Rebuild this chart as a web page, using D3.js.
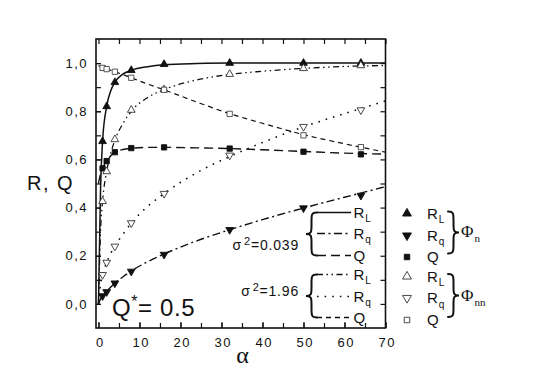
<!DOCTYPE html>
<html>
<head>
<meta charset="utf-8">
<script src="https://cdn.jsdelivr.net/npm/d3@7"></script>
<style>
  body { margin: 0; background: #fff; }
  svg { display: block; font-family: "Liberation Sans", Arial, sans-serif; }
  .tick text { font-size: 13px; letter-spacing: 1.5px; fill: #111; }
  .tick line { stroke: #111; stroke-width: 1.2; }
</style>
</head>
<body>
<div id="chart"></div>
<script>
"use strict";

// alpha values where markers are drawn
const alphaMarks = [1, 2, 4, 8, 16, 32, 50, 64];

// Phi_n (sigma^2 = 0.039), filled markers
const rlN = [0.675, 0.82, 0.92, 0.97, 0.995, 1.0, 1.0, 1.0];
const rqN = [0.033, 0.05, 0.086, 0.135, 0.205, 0.308, 0.398, 0.45];
const qN = [0.563, 0.593, 0.63, 0.647, 0.65, 0.645, 0.632, 0.621];

// Phi_nn (sigma^2 = 1.96), open markers
const rlNN = [0.426, 0.55, 0.683, 0.805, 0.89, 0.954, 0.978, 0.99];
const rqNN = [0.121, 0.172, 0.239, 0.336, 0.458, 0.617, 0.736, 0.805];
const qNN = [0.98, 0.975, 0.964, 0.939, 0.889, 0.789, 0.70, 0.651];

// theory curves
const alphaCurve = [0, 0.5, 1, 2, 3, 4, 6, 8, 12, 16, 24, 32, 40, 50, 60, 70];
const rlNCurve = [0, 0.47, 0.675, 0.82, 0.885, 0.92, 0.955, 0.97, 0.985, 0.993, 0.998, 1.0, 1.0, 1.0, 1.0, 1.0];
const rqNCurve = [0, 0.02, 0.033, 0.052, 0.07, 0.087, 0.113, 0.137, 0.175, 0.207, 0.262, 0.308, 0.35, 0.398, 0.443, 0.487];
const qNCurve = [0.5, 0.54, 0.563, 0.594, 0.615, 0.628, 0.641, 0.646, 0.65, 0.65, 0.648, 0.645, 0.64, 0.633, 0.626, 0.622];
const rlNNCurve = [0, 0.3, 0.426, 0.55, 0.625, 0.68, 0.75, 0.8, 0.857, 0.89, 0.93, 0.953, 0.966, 0.978, 0.986, 0.99];
const rqNNCurve = [0, 0.08, 0.121, 0.172, 0.21, 0.24, 0.29, 0.335, 0.405, 0.458, 0.545, 0.612, 0.67, 0.735, 0.79, 0.843];
const qNNCurve = [0.99, 0.985, 0.98, 0.975, 0.97, 0.964, 0.952, 0.939, 0.913, 0.889, 0.838, 0.79, 0.75, 0.703, 0.665, 0.63];

// axes
const xTicks = [0, 10, 20, 30, 40, 50, 60, 70];
const yTicks = [0, 0.2, 0.4, 0.6, 0.8, 1.0];
const yTickLabels = ["0,0", "0,2", "0,4", "0,6", "0,8", "1,0"];

const width = 549;
const height = 382;

let svg = d3.select("#chart").append("svg")
  .attr("width", width)
  .attr("height", height)
  .attr("viewBox", [0, 0, width, height].join(" "));

let plot = { left: 96, right: 385.5, top: 39, bottom: 328 };

let x = d3.scaleLinear().domain([-0.6, 70]).range([plot.left, plot.right]);
let y = d3.scaleLinear().domain([-0.1, 1.1]).range([plot.bottom, plot.top]);

svg.append("clipPath").attr("id", "clip")
  .append("rect")
  .attr("x", plot.left).attr("y", plot.top)
  .attr("width", plot.right - plot.left).attr("height", plot.bottom - plot.top);

// ticks (all point inwards)
let minorX = d3.range(0, 71, 5);
let minorY = d3.range(0, 11).map(d => d / 10);

svg.append("g")
  .attr("transform", `translate(0,${plot.bottom})`)
  .call(d3.axisBottom(x).tickValues(minorX).tickSize(-5).tickFormat(""));
svg.append("g")
  .attr("transform", `translate(0,${plot.bottom})`)
  .call(d3.axisBottom(x).tickValues(xTicks).tickSize(-6).tickPadding(9.5).tickFormat(d => d))
  .selectAll(".tick text").attr("dx", "0.1em");
svg.append("g")
  .attr("transform", `translate(0,${plot.top})`)
  .call(d3.axisTop(x).tickValues(minorX).tickSize(-5).tickFormat(""));

svg.append("g")
  .attr("transform", `translate(${plot.left},0)`)
  .call(d3.axisLeft(y).tickValues(minorY).tickSize(-5).tickFormat(""));
svg.append("g")
  .attr("transform", `translate(${plot.left},0)`)
  .call(d3.axisLeft(y).tickValues(yTicks).tickSize(-5).tickPadding(8)
    .tickFormat((d, i) => yTickLabels[i]));
svg.append("g")
  .attr("transform", `translate(${plot.right},0)`)
  .call(d3.axisRight(y).tickValues(minorY).tickSize(-5).tickFormat(""));

svg.selectAll(".domain").remove();

// frame
svg.append("rect")
  .attr("x", plot.left).attr("y", plot.top)
  .attr("width", plot.right - plot.left).attr("height", plot.bottom - plot.top)
  .attr("fill", "none")
  .attr("stroke", "#111")
  .attr("stroke-width", 1.6);

// curves
let styles = {
  solid: null,
  dashDot: "8,3.5,2,3.5",
  longDash: "9,5",
  dashDotDot: "6,3.5,1.5,3.5,1.5,3.5",
  dotted: "1.6,6",
  shortDash: "5,4"
};

let curves = [
  { values: rlNCurve, dash: styles.solid, w: 1.5 },
  { values: rqNCurve, dash: styles.dashDot, w: 1.4 },
  { values: qNCurve, dash: styles.longDash, w: 1.4 },
  { values: rlNNCurve, dash: styles.dashDotDot, w: 1.3 },
  { values: rqNNCurve, dash: styles.dotted, w: 1.6 },
  { values: qNNCurve, dash: styles.shortDash, w: 1.2 }
];

let line = d3.line()
  .x(d => x(d[0]))
  .y(d => y(d[1]))
  .curve(d3.curveMonotoneX);

let curveG = svg.append("g").attr("clip-path", "url(#clip)");

curveG.selectAll(".curve")
  .data(curves)
  .enter().append("path")
  .attr("class", "curve")
  .attr("fill", "none")
  .attr("stroke", "#111")
  .attr("stroke-width", d => d.w)
  .attr("stroke-dasharray", d => d.dash)
  .attr("d", d => line(alphaCurve.map((a, i) => [a, d.values[i]])));

// markers
let triUp = d3.symbol().type(d3.symbolTriangle).size(26)();
let triUpBig = d3.symbol().type(d3.symbolTriangle).size(34)();
let sq = d3.symbol().type(d3.symbolSquare).size(28)();
let sqBig = d3.symbol().type(d3.symbolSquare).size(30)();

let markerSets = [
  { values: rlN, path: triUp, rot: 0, fill: "#111", stroke: "#111" },
  { values: rqN, path: triUp, rot: 180, fill: "#111", stroke: "#111" },
  { values: qN, path: sq, rot: 0, fill: "#111", stroke: "#111" },
  { values: rlNN, path: triUp, rot: 0, fill: "#fff", stroke: "#333" },
  { values: rqNN, path: triUp, rot: 180, fill: "#fff", stroke: "#333" },
  { values: qNN, path: sq, rot: 0, fill: "#fff", stroke: "#444" }
];

markerSets.forEach(function(set) {
  svg.append("g").selectAll("path")
    .data(alphaMarks.map((a, i) => [a, set.values[i]]))
    .enter().append("path")
    .attr("d", set.path)
    .attr("transform", d => `translate(${x(d[0])},${y(d[1])}) rotate(${set.rot})`)
    .attr("fill", set.fill)
    .attr("stroke", set.stroke)
    .attr("stroke-width", 0.9);
});

// axis titles
svg.append("text")
  .attr("x", 27).attr("y", 190)
  .style("font-size", "20px")
  .style("letter-spacing", "1.5px")
  .attr("fill", "#111")
  .text("R, Q");

svg.append("text")
  .attr("x", 242.5).attr("y", 363)
  .attr("text-anchor", "middle")
  .style("font-family", "'Liberation Serif', 'DejaVu Serif', serif")
  .style("font-size", "24px")
  .attr("fill", "#111")
  .text("α");

// Q* = 0.5
let qStar = svg.append("text")
  .attr("x", 112).attr("y", 316)
  .style("font-size", "24px")
  .style("letter-spacing", "0.6px")
  .attr("fill", "#111");
qStar.append("tspan").text("Q");
qStar.append("tspan").attr("dy", -9).style("font-size", "16px").text("*");
qStar.append("tspan").attr("dy", 9).text("= 0.5");

// braces
function brace(x0, x1, y0, y1) {
  // tip at x0, arms end at x1
  let xm = (x0 + x1) / 2;
  let ym = (y0 + y1) / 2;
  let r = Math.abs(x1 - x0) / 2;
  return `M${x1},${y0} C${xm},${y0} ${xm},${y0 + r * 0.4} ${xm},${y0 + r * 1.6}`
    + ` L${xm},${ym - r * 1.6} C${xm},${ym - r * 0.4} ${xm},${ym} ${x0},${ym}`
    + ` C${xm},${ym} ${xm},${ym + r * 0.4} ${xm},${ym + r * 1.6}`
    + ` L${xm},${y1 - r * 1.6} C${xm},${y1 - r * 0.4} ${xm},${y1} ${x1},${y1}`;
}

function drawBrace(x0, x1, y0, y1) {
  svg.append("path")
    .attr("d", brace(x0, x1, y0, y1))
    .attr("fill", "none")
    .attr("stroke", "#111")
    .attr("stroke-width", 2)
    .attr("stroke-linecap", "round");
}

function subText(g, xp, yp, main, sub, size, subSize) {
  let t = g.append("text")
    .attr("x", xp).attr("y", yp)
    .attr("dy", "0.35em")
    .style("font-size", size + "px")
    .attr("fill", "#111");
  t.append("tspan").text(main);
  if (sub) {
    t.append("tspan").attr("dx", 1).attr("dy", size * 0.3).style("font-size", subSize + "px").text(sub);
  }
  return t;
}

// inner legend: line styles
let lineLegend = [
  { label: "R", sub: "L", dash: styles.solid, y: 212.5 },
  { label: "R", sub: "q", dash: styles.dashDot, y: 233.5 },
  { label: "Q", sub: "", dash: styles.longDash, y: 255.5 },
  { label: "R", sub: "L", dash: styles.dashDotDot, y: 274.5 },
  { label: "R", sub: "q", dash: styles.dotted, y: 296.5 },
  { label: "Q", sub: "", dash: styles.shortDash, y: 317.5 }
];

let legG = svg.append("g");

legG.selectAll("line")
  .data(lineLegend)
  .enter().append("line")
  .attr("x1", 317).attr("x2", 351)
  .attr("y1", d => d.y).attr("y2", d => d.y)
  .attr("stroke", "#111")
  .attr("stroke-width", 1.3)
  .attr("stroke-dasharray", d => d.dash);

lineLegend.forEach(d => subText(legG, 353.5, d.y, d.label, d.sub, 15, 10));

drawBrace(306, 317, 212.5, 255.5);
drawBrace(306, 317, 274.5, 317.5);

let sigmaLabels = [
  { value: "=0.039", y: 245 },
  { value: "=1.96", y: 291 }
];

sigmaLabels.forEach(function(d) {
  let t = legG.append("text")
    .attr("x", 299).attr("y", d.y)
    .attr("dy", "0.35em")
    .attr("text-anchor", "end")
    .style("font-size", "14px")
    .style("letter-spacing", "0.8px")
    .attr("fill", "#111");
  t.append("tspan").text("σ");
  t.append("tspan").attr("dx", 2).attr("dy", -5).style("font-size", "11px").text("2");
  t.append("tspan").attr("dy", 5).text(d.value);
});

// outer legend: markers
let markLegend = [
  { label: "R", sub: "L", path: triUpBig, rot: 0, fill: "#111", y: 213.5 },
  { label: "R", sub: "q", path: triUpBig, rot: 180, fill: "#111", y: 235.5 },
  { label: "Q", sub: "", path: sqBig, rot: 0, fill: "#111", y: 257 },
  { label: "R", sub: "L", path: triUpBig, rot: 0, fill: "#fff", y: 276.5 },
  { label: "R", sub: "q", path: triUpBig, rot: 180, fill: "#fff", y: 298 },
  { label: "Q", sub: "", path: sqBig, rot: 0, fill: "#fff", y: 320 }
];

markLegend.forEach(function(d) {
  legG.append("path")
    .attr("d", d.path)
    .attr("transform", `translate(407,${d.y}) rotate(${d.rot})`)
    .attr("fill", d.fill)
    .attr("stroke", d.fill === "#fff" ? "#333" : "#111")
    .attr("stroke-width", 0.9);
  subText(legG, 427, d.y, d.label, d.sub, 15, 10);
});

drawBrace(459, 448, 211.5, 253.5);
drawBrace(459, 448, 274, 317);

subText(legG, 461, 231, "Φ", "n", 17, 11).style("font-family", "'Liberation Serif', 'DejaVu Serif', serif");
subText(legG, 461, 295, "Φ", "nn", 17, 11).style("font-family", "'Liberation Serif', 'DejaVu Serif', serif");
</script>
</body>
</html>
